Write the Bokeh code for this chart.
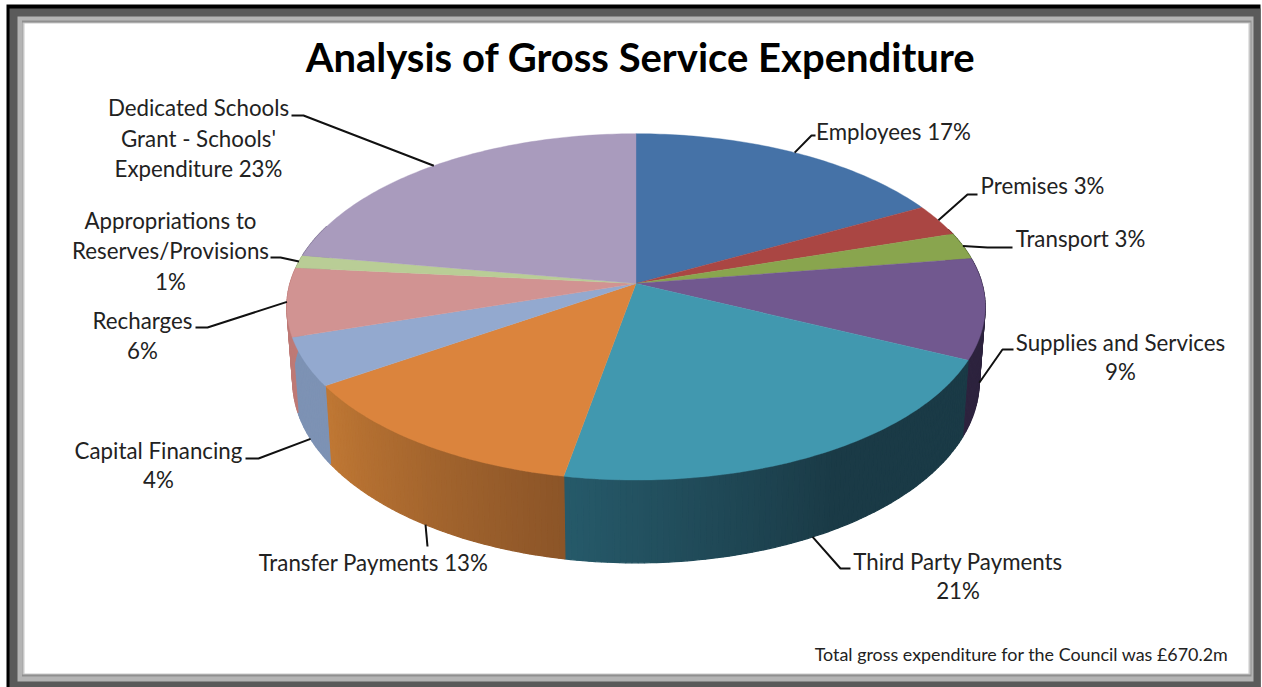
import math
from bokeh.plotting import figure
from bokeh.models import ColumnDataSource, Range1d
from bokeh.core.properties import value
from bokeh.embed import file_html
from bokeh.resources import INLINE

# ---- data ----
categories = ["Employees", "Premises", "Transport", "Supplies and Services", "Third Party Payments",
              "Transfer Payments", "Capital Financing", "Recharges",
              "Appropriations to Reserves/Provisions", "Dedicated Schools Grant - Schools' Expenditure"]
shares = [17.1, 3.0, 2.5, 9.4, 20.9, 12.7, 4.5, 6.4, 1.2, 22.3]
top_colors = ["#4572A7", "#AA4643", "#89A54E", "#71588F", "#4198AF",
              "#DB843D", "#93A9CF", "#D19392", "#B9CD96", "#A99BBD"]
# wall shade at the slice's start and end
wall_from = [(40, 66, 98), (100, 40, 38), (80, 98, 46), (45, 35, 62), (26, 58, 70),
             (140, 85, 40), (125, 146, 180), (190, 122, 118), (150, 170, 120), (120, 110, 140)]
wall_to = [(40, 66, 98), (100, 40, 38), (80, 98, 46), (45, 35, 62), (38, 90, 106),
           (192, 120, 52), (125, 146, 180), (190, 122, 118), (150, 170, 120), (120, 110, 140)]
wall_flat = [0, 0, 0, 0, 0.45, 0, 0, 0, 0, 0]
title = "Analysis of Gross Service Expenditure"
footnote = "Total gross expenditure for the Council was £670.2m"

label_lines = ["Employees 17%", "Premises 3%", "Transport 3%", "Supplies and Services", "9%",
               "Third Party Payments", "21%", "Transfer Payments 13%", "Capital Financing", "4%",
               "Recharges", "6%", "Appropriations to", "Reserves/Provisions", "1%",
               "Dedicated Schools", "Grant - Schools'", "Expenditure 23%"]
label_x = [893, 1042, 1080, 1120, 1120, 957.5, 957.5, 373, 158, 158, 142, 142, 170, 170, 170, 198, 198, 198]
label_y = [131, 185, 238, 342, 371, 561, 590, 562, 450, 479, 320, 350, 220, 250, 281, 107, 138, 168]

# leader: rim level (0 top, 1 bottom), elbow, end
leader_level = [0, 0, 0, 1, 1, 1, 1, 0, 0, 0]
leader_elbow_x = [811, 967, 987, 1002, 840, 427, 258, 207, 280, 303]
leader_elbow_y = [135, 194, 247, 349, 568, 546, 458, 327, 257, 115]
leader_end_x = [815, 977, 1012, 1013, 850, 427, 245, 195, 270, 291]
leader_end_y = [135, 194, 247, 349, 568, 546, 458, 327, 257, 115]

# ---- projection ----
CX, CY = 635.5, 283
A, B, K = 346, 170, 0.135
SX, SY, DY = 0.983, 1.05, 73

def project(share_pos, level=0):
    t = math.radians(share_pos * 3.6)
    w = 1 + K * math.cos(t)
    x = A * math.sin(t) / w
    y = -B * math.cos(t) / w
    if level:
        x, y = x * SX, y * SY + DY
    return CX + x, CY + y

def steps(a, b, d=0.25):
    n = max(2, int(round((b - a) / d)))
    return [a + (b - a) * i / n for i in range(n + 1)]

def shade(col):
    return "#%02x%02x%02x" % tuple(int(round(v)) for v in col)

p = figure(width=1262, height=687, output_backend="svg", toolbar_location=None,
           x_range=Range1d(0, 1262), y_range=Range1d(687, 0), min_border=0)
p.axis.visible = False
p.grid.visible = False
p.outline_line_color = None
p.background_fill_color = "white"
p.border_fill_color = "white"

# ---- frame ----
frame_l = [6, 9, 17, 21.5, 22, 24]
frame_t = [4, 8, 16, 20, 22, 23]
frame_r = [1260, 1260, 1253, 1251, 1250, 1248]
frame_b = [687, 687, 681, 676, 674, 673]
frame_c = ["#000000", "#5A5A5A", "#B4B4B4", "#8F8F8F", "#C8C8C8", "#FFFFFF"]
p.quad(left=frame_l, right=frame_r, top=frame_t, bottom=frame_b, fill_color=frame_c, line_color=None)

# ---- walls ----
wx, wy, wc = [], [], []
pos = 0.0
for s, c0, c1, flat in zip(shares, wall_from, wall_to, wall_flat):
    grid = steps(pos, pos + s)
    for a, b in zip(grid[:-1], grid[1:]):
        if 70 < a * 3.6 < 290:
            x0, y0 = project(a)
            x1, y1 = project(b)
            x2, y2 = project(b, 1)
            x3, y3 = project(a, 1)
            f = max(0.0, ((a - pos) / s - flat) / (1 - flat))
            col = shade([c0[i] + (c1[i] - c0[i]) * f for i in range(3)])
            wx.append([x0, x1, x2, x3])
            wy.append([y0, y1, y2, y3])
            wc.append(col)
    pos += s
p.patches(xs=wx, ys=wy, fill_color=wc, line_color=wc, line_width=1.2)

# ---- top face ----
fx, fy = [], []
pos = 0.0
for s in shares:
    pts = [project(a) for a in steps(pos, pos + s)]
    fx.append([CX] + [q[0] for q in pts])
    fy.append([CY] + [q[1] for q in pts])
    pos += s
p.patches(xs=fx, ys=fy, fill_color=top_colors, line_color=top_colors, line_width=0.4)

# ---- leaders ----
lx, ly = [], []
pos = 0.0
for i, s in enumerate(shares):
    x0, y0 = project(pos + s / 2, leader_level[i])
    lx.append([x0, leader_elbow_x[i], leader_end_x[i]])
    ly.append([y0, leader_elbow_y[i], leader_end_y[i]])
    pos += s
p.multi_line(xs=lx, ys=ly, line_color="#111111", line_width=2)

# ---- text ----
src = ColumnDataSource(dict(x=label_x, y=label_y, t=label_lines))
p.text(x="x", y="y", text="t", source=src, text_font=value("Lato"), text_font_size="22.3px",
       text_align="center", text_baseline="middle", text_color="#222222")
p.text(x=[640], y=[56], text=[title], text_font=value("Lato"), text_font_size="40px",
       text_font_style="bold", text_align="center", text_baseline="middle", text_color="#000000")
p.text(x=[1228], y=[653], text=[footnote], text_font=value("Lato"), text_font_size="17.9px",
       text_align="right", text_baseline="middle", text_color="#222222")

open("out.html", "w").write(file_html(p, INLINE))
